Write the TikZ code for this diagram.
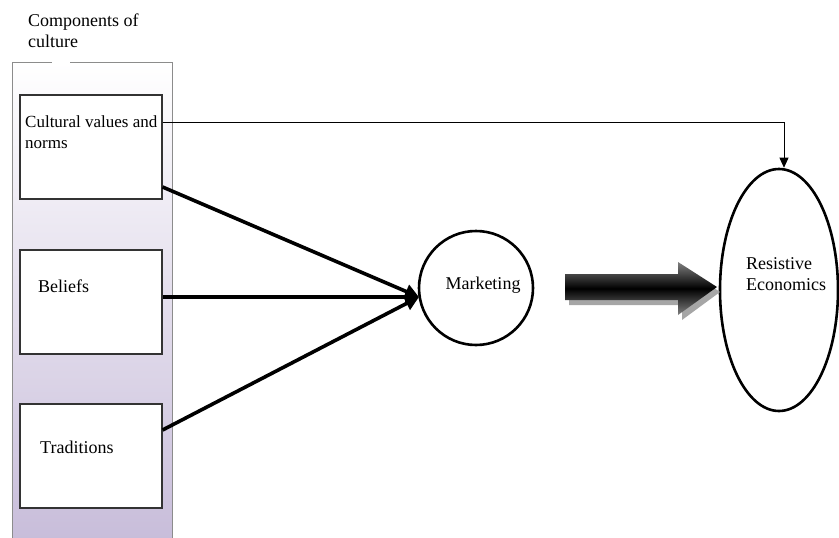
\documentclass[tikz,border=0pt]{standalone}
\usepackage{fontspec}
\setmainfont{Liberation Serif}
\usetikzlibrary{positioning}
\usetikzlibrary{arrows.meta}
\usetikzlibrary{shapes.geometric}

\definecolor{panelbot}{RGB}{200,189,218}
\tikzset{
  part/.style={draw=black!80, line width=1.2pt, fill=white, minimum width=142pt, minimum height=104pt, inner sep=0pt},
  lbl/.style={font=\fontsize{18}{21}\selectfont, inner sep=0pt, align=left},
  feed/.style={line width=3.6pt, -{Triangle[length=14pt,width=14pt]}},
}

\begin{document}
\begin{tikzpicture}[x=1pt,y=-1pt]
  \useasboundingbox (0,0) rectangle (839,538);
  % panel behind the three parts
  \shade[top color=white, bottom color=panelbot] (12,62) rectangle (172,540);
  \draw[black!45, line width=1pt] (12,540) -- (12,62) -- (52,62);
  \draw[black!45, line width=1pt] (70,62) -- (172,62) -- (172,540);
  \node[lbl, anchor=north west] (title) at (28,14) {Components of\\culture};

  \node[part] (values) at (91,147) {};
  \node[part] (beliefs) at (91,302) {};
  \node[part] (trad) at (91,456) {};
  \node[lbl, font=\fontsize{17}{21}\selectfont, anchor=north west] at (25,116) {Cultural values and\\norms};
  \node[lbl, anchor=west] at (38,286) {Beliefs};
  \node[lbl, anchor=west] at (40,447) {Traditions};

  \node[circle, draw, line width=2.6pt, minimum size=114pt, inner sep=0pt] (mkt) at (476,288) {};
  \node[lbl] at (483,285) {Marketing};
  \node[ellipse, draw, line width=2.6pt, minimum width=118pt, minimum height=242pt, inner sep=0pt] (econ) at (779,290) {};
  \node[lbl, anchor=west] at (746,274) {Resistive\\Economics};

  \coordinate (hit) at (419,297);
  \draw[feed] (values.east |- 0,187) -- (hit);
  \draw[feed] (beliefs.east |- 0,297) -- (hit);
  \draw[feed] (trad.east |- 0,430) -- (hit);

  % thin link over the top
  \draw[line width=0.8pt, -{Triangle[length=10pt,width=9pt]}] (values.east |- 0,122) -- (784,122) -- (econ.north -| 784,0);

  % block arrow
  \fill[black!35] (569,279) -- (682,279) -- (682,266) -- (720,292) -- (682,320) -- (682,305) -- (569,305) -- cycle;
  \shade[top color=black!50, bottom color=black!50, middle color=black] (565,274) -- (678,274) -- (678,262) -- (717,287) -- (678,315) -- (678,300) -- (565,300) -- cycle;
\end{tikzpicture}
\end{document}
